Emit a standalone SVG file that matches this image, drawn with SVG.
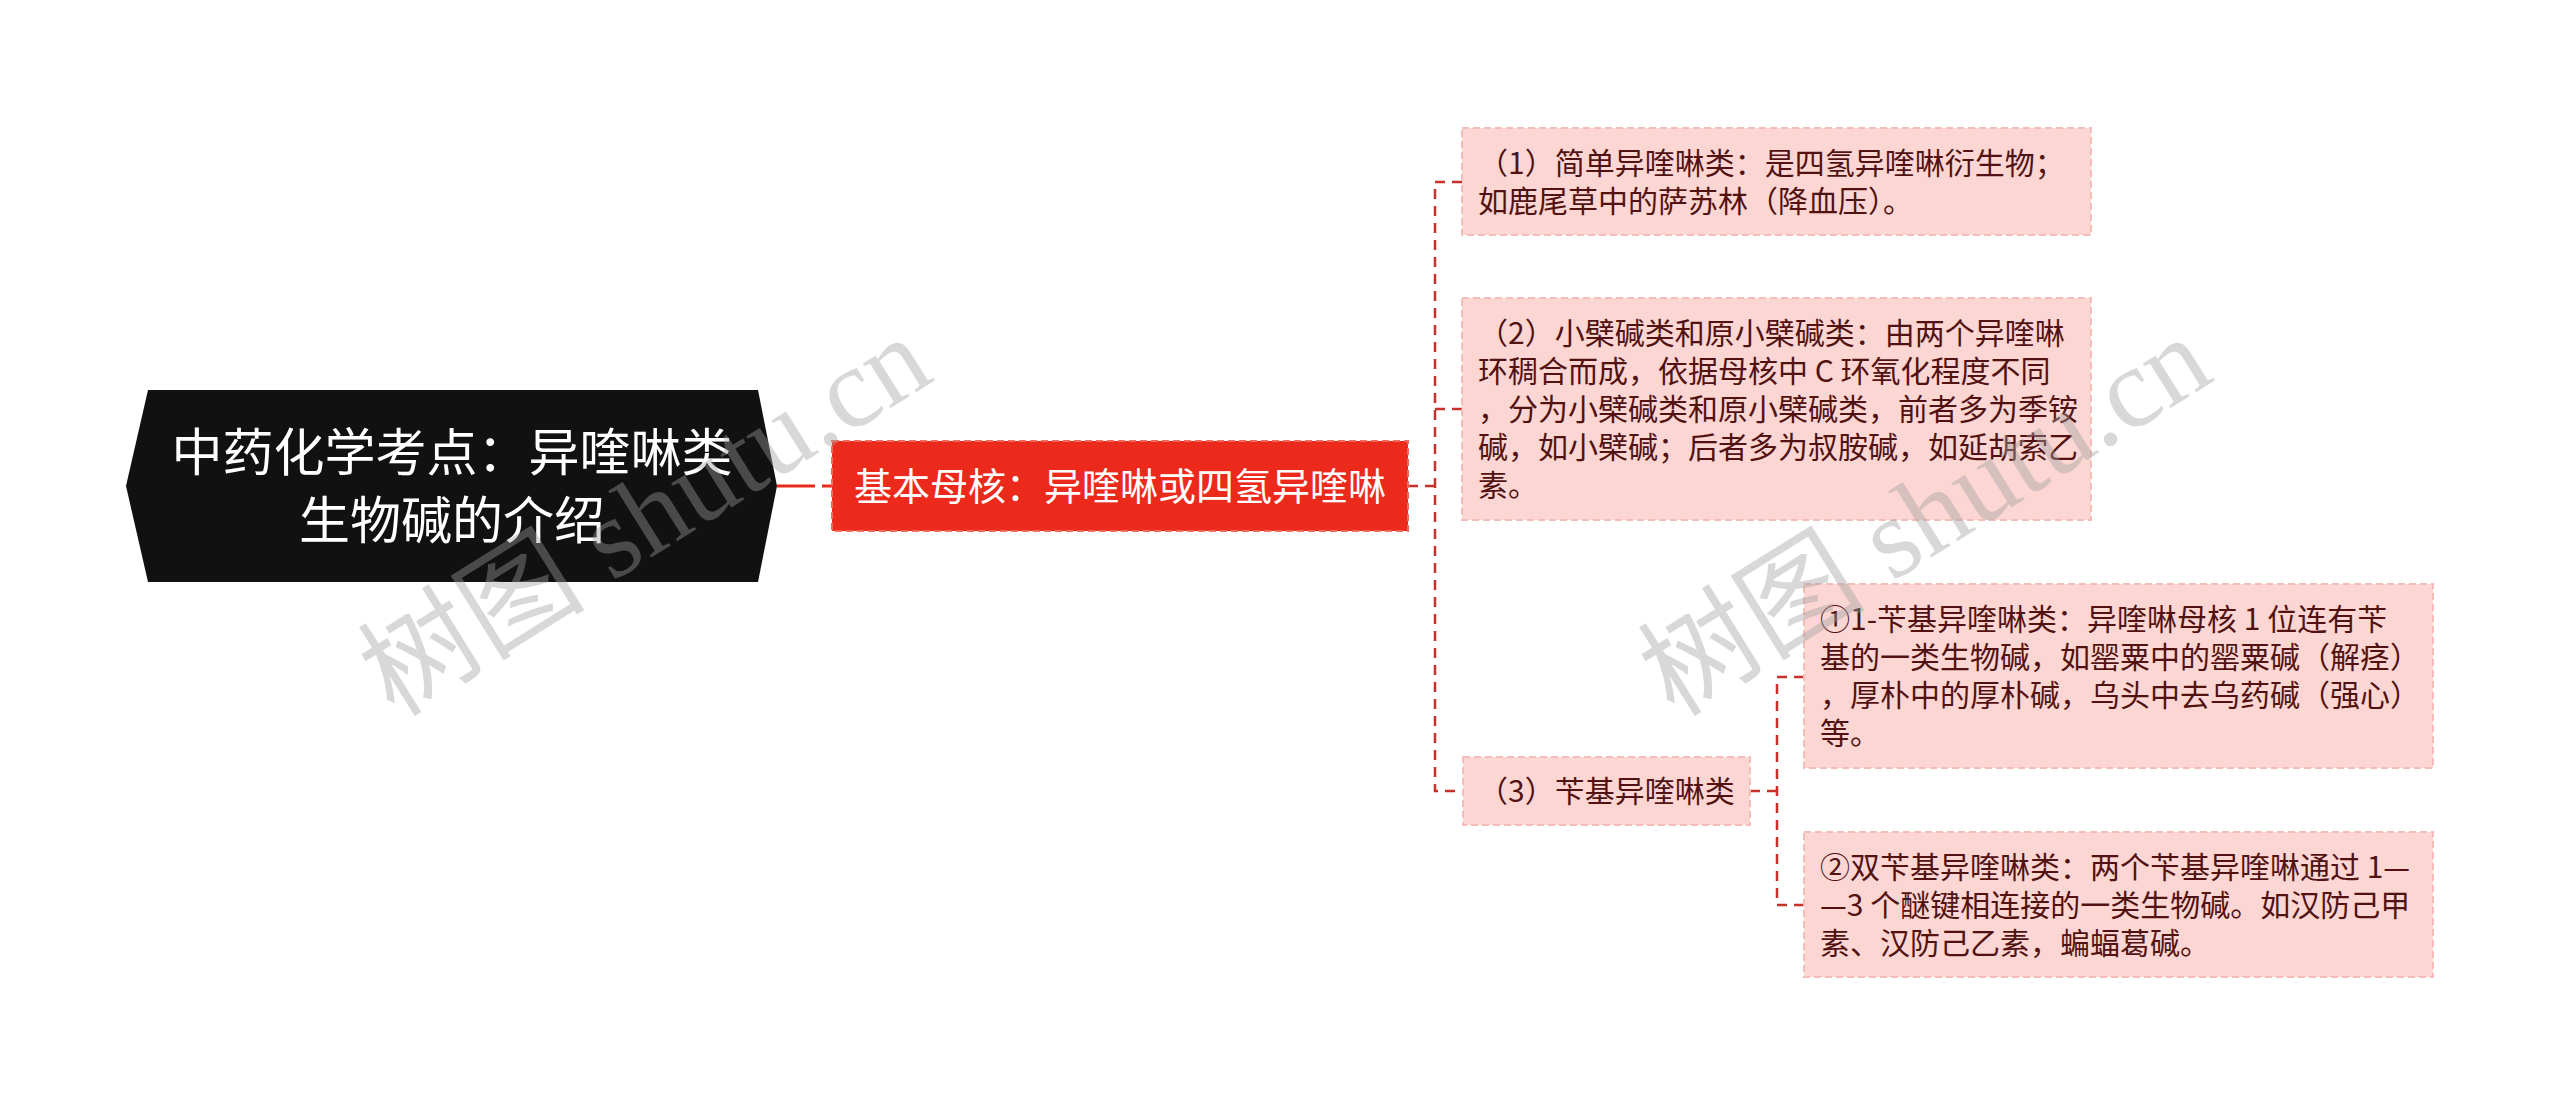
<svg xmlns="http://www.w3.org/2000/svg" width="2560" height="1105" viewBox="0 0 2560 1105">
<style>
.t{font-family:"Noto Sans CJK SC","Noto Sans",sans-serif}
.pink rect{fill:#fcd6d3;stroke:#f3bdb8;stroke-width:2;stroke-dasharray:7 4}
.pink text{fill:#521212;font-size:30px}
.con{fill:none;stroke:#c8302a;stroke-width:2.5;stroke-dasharray:10 7}
.wm{font-family:"Liberation Serif","Noto Sans CJK SC",serif;font-size:114px;fill:#a0a0a0;opacity:0.4}
</style>
<rect width="2560" height="1105" fill="#ffffff"/>
<g id="connectors">
<path d="M777 486 H832" fill="none" stroke="#e8291c" stroke-width="3" stroke-dasharray="38 7 10 100"/>
<path class="con" d="M1408 486 H1435"/>
<path class="con" d="M1462 182 H1435 V791 H1463"/>
<path class="con" d="M1435 409 H1462"/>
<path class="con" d="M1750 791 H1777"/>
<path class="con" d="M1804 677 H1777 V905 H1804"/>
</g>
<g id="root">
<polygon points="148,390 758,390 777,486 758,582 148,582 126,486" fill="#111111"/>
<text class="t" x="452" y="471" font-size="51" fill="#ffffff" text-anchor="middle">中药化学考点：异喹啉类</text>
<text class="t" x="452" y="539" font-size="51" fill="#ffffff" text-anchor="middle">生物碱的介绍</text>
</g>
<g id="n-core">
<rect x="832" y="441" width="576" height="90" fill="#ec2a1c" stroke="#f26a5e" stroke-width="2" stroke-dasharray="7 4"/>
<text class="t" x="1120" y="500" font-size="38" fill="#ffffff" text-anchor="middle">基本母核：异喹啉或四氢异喹啉</text>
</g>
<g id="n1" class="pink">
<rect x="1462" y="128" width="629" height="107"/>
<text class="t" x="1478" y="174">（1）简单异喹啉类：是四氢异喹啉衍生物；</text>
<text class="t" x="1478" y="212">如鹿尾草中的萨苏林（降血压）。</text>
</g>
<g id="n2" class="pink">
<rect x="1462" y="298" width="629" height="222"/>
<text class="t" x="1478" y="344">（2）小檗碱类和原小檗碱类：由两个异喹啉</text>
<text class="t" x="1478" y="382">环稠合而成，依据母核中 C 环氧化程度不同</text>
<text class="t" x="1478" y="420">，分为小檗碱类和原小檗碱类，前者多为季铵</text>
<text class="t" x="1478" y="458">碱，如小檗碱；后者多为叔胺碱，如延胡索乙</text>
<text class="t" x="1478" y="496">素。</text>
</g>
<g id="n3" class="pink">
<rect x="1463" y="757" width="287" height="68"/>
<text class="t" x="1478" y="802">（3）苄基异喹啉类</text>
</g>
<g id="n4" class="pink">
<rect x="1804" y="584" width="629" height="184"/>
<text class="t" x="1820" y="630">①1-苄基异喹啉类：异喹啉母核 1 位连有苄</text>
<text class="t" x="1820" y="668">基的一类生物碱，如罂粟中的罂粟碱（解痉）</text>
<text class="t" x="1820" y="706">，厚朴中的厚朴碱，乌头中去乌药碱（强心）</text>
<text class="t" x="1820" y="744">等。</text>
</g>
<g id="n5" class="pink">
<rect x="1804" y="832" width="629" height="145"/>
<text class="t" x="1820" y="878">②双苄基异喹啉类：两个苄基异喹啉通过 1—</text>
<text class="t" x="1820" y="916">—3 个醚键相连接的一类生物碱。如汉防己甲</text>
<text class="t" x="1820" y="954">素、汉防己乙素，蝙蝠葛碱。</text>
</g>
<g id="watermarks">
<text class="wm" x="645" y="516" text-anchor="middle" dominant-baseline="central" transform="rotate(-32 645 516)">树图 shutu.cn</text>
<text class="wm" x="1925" y="516" text-anchor="middle" dominant-baseline="central" transform="rotate(-32 1925 516)">树图 shutu.cn</text>
</g>
</svg>
